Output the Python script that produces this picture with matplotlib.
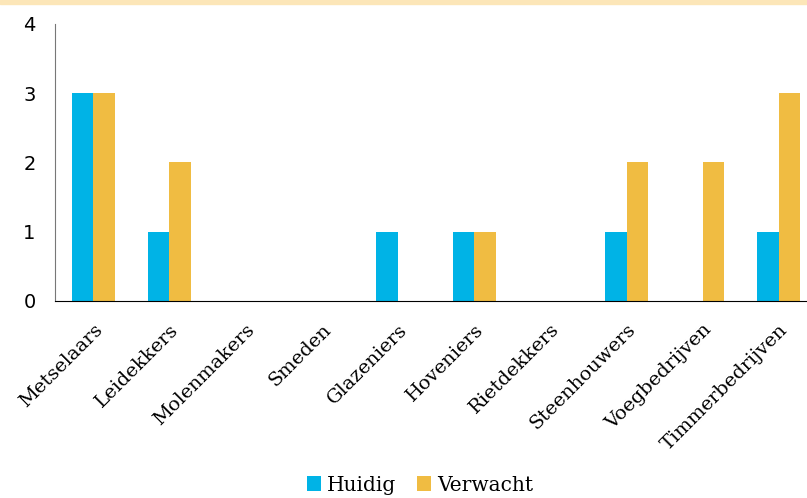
import matplotlib
matplotlib.use("Agg")
from matplotlib import pyplot as plt
import numpy as np

categories = ['Metselaars', 'Leidekkers', 'Molenmakers', 'Smeden', 'Glazeniers',
              'Hoveniers', 'Rietdekkers', 'Steenhouwers', 'Voegbedrijven', 'Timmerbedrijven']
huidig = [3, 1, 0, 0, 1, 1, 0, 1, 0, 1]
verwacht = [3, 2, 0, 0, 0, 1, 0, 2, 2, 3]

blue = '#00B3E6'
gold = '#F0BC42'

fig = plt.figure(figsize=(8.07, 4.98), dpi=100)
fig.patches.append(plt.Rectangle((0, 0.991), 1, 0.009, transform=fig.transFigure,
                                 color='#FCE6B8', zorder=0))
ax = fig.add_axes([55 / 807, 1 - 301 / 498, 762 / 807, 277 / 498])

x = np.arange(len(categories))
w = 0.282
ax.bar(x - w / 2, huidig, w, color=blue, label='Huidig')
ax.bar(x + w / 2, verwacht, w, color=gold, label='Verwacht')

ax.set_xlim(-0.5, len(categories) - 0.5)
ax.set_ylim(0, 4)
ax.set_yticks([0, 1, 2, 3, 4])
ax.tick_params(length=0)
ax.tick_params(axis='y', labelsize=14, pad=14)
ax.set_xticks(x, labels=categories, rotation=45, ha='right', rotation_mode='anchor',
              family='DejaVu Serif', fontsize=14)
ax.tick_params(axis='x', pad=14)
for s in ['top', 'right']:
    ax.spines[s].set_visible(False)
ax.spines['left'].set_color('#777777')
ax.spines['bottom'].set_color('black')

leg = ax.legend(loc='center', bbox_to_anchor=(365 / 762, -184 / 277), ncol=2, frameon=False,
                prop={'family': 'DejaVu Serif', 'size': 14.5}, handlelength=0.7,
                handleheight=0.7, handletextpad=0.3, columnspacing=1.0)

fig.savefig('out.png', dpi=100)
